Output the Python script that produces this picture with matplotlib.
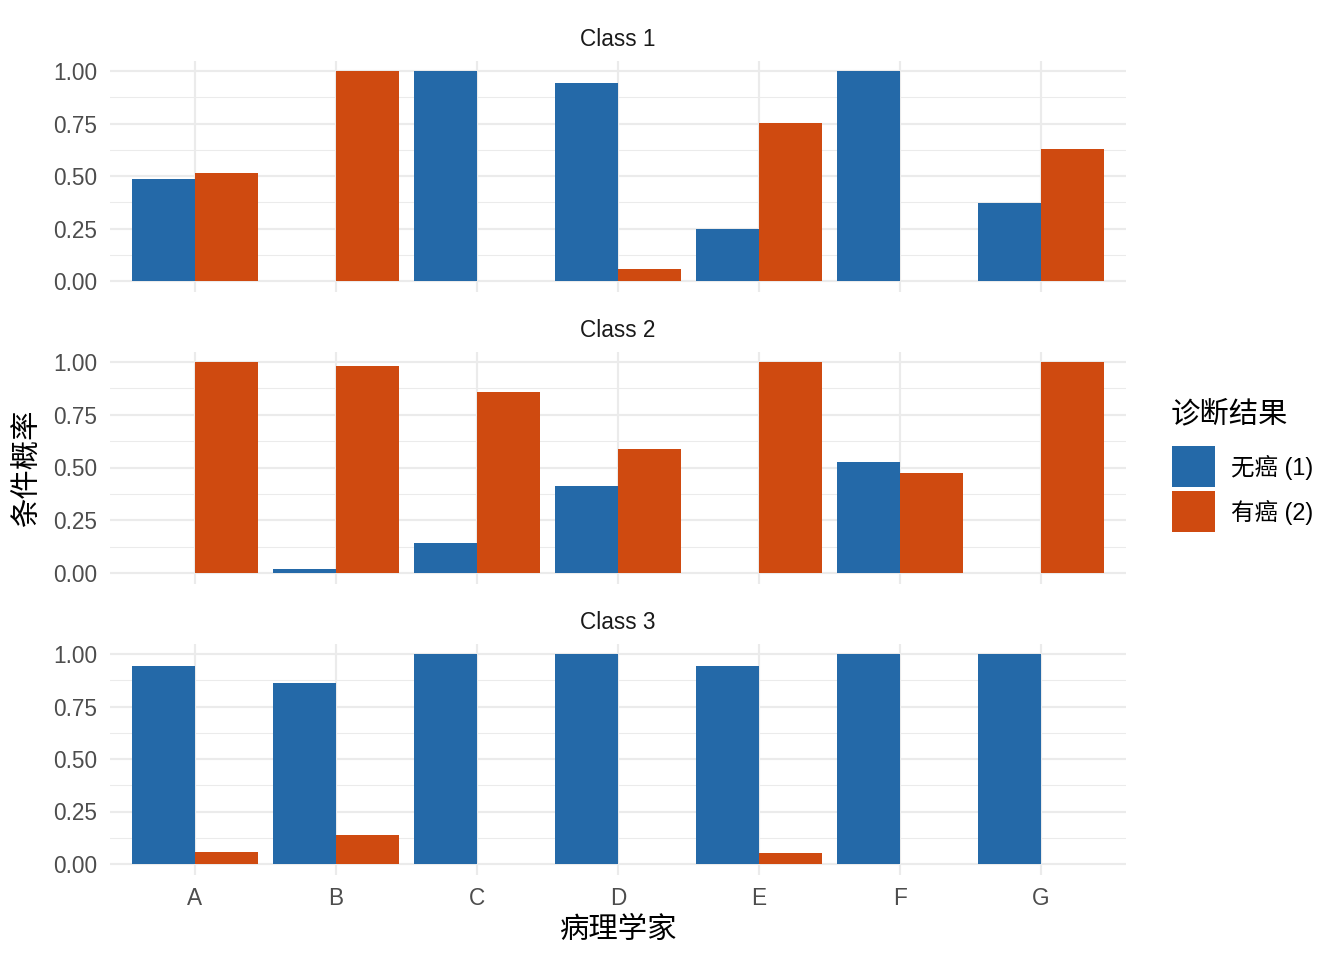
import matplotlib
matplotlib.use("Agg")
import matplotlib.pyplot as plt
import numpy as np
from matplotlib.patches import Rectangle

plt.rcParams["font.family"] = ["Liberation Sans", "Noto Sans CJK SC", "DejaVu Sans"]

pathologists = ["A", "B", "C", "D", "E", "F", "G"]
classes = ["Class 1", "Class 2", "Class 3"]
legend_title = "诊断结果"
series_labels = ["无癌 (1)", "有癌 (2)"]

# conditional probability per class, one row per class
no_cancer = [
    [0.485, 0.0, 1.0, 0.943, 0.248, 1.0, 0.371],
    [0.0, 0.019, 0.142, 0.412, 0.0, 0.524, 0.0],
    [0.943, 0.862, 1.0, 1.0, 0.943, 1.0, 1.0],
]
cancer = [
    [0.515, 1.0, 0.0, 0.057, 0.752, 0.0, 0.629],
    [1.0, 0.981, 0.858, 0.588, 1.0, 0.476, 1.0],
    [0.057, 0.138, 0.0, 0.0, 0.052, 0.0, 0.0],
]

BLUE = "#2469A8"
ORANGE = "#CF4A10"
GRID = "#EBEBEB"
W, H = 1344, 960

fig = plt.figure(figsize=(7, 5), dpi=192)

left, right = 110.4 / W, 1125.6 / W
panel_px = [(60.5, 291.5), (351.5, 583.5), (643.5, 874.5)]
x = np.arange(len(pathologists))
bw = 0.45

axes = []
for i, (top, bot) in enumerate(panel_px):
    ax = fig.add_axes([left, 1 - bot / H, right - left, (bot - top) / H])
    ax.bar(x - bw / 2, no_cancer[i], width=bw, color=BLUE, zorder=3)
    ax.bar(x + bw / 2, cancer[i], width=bw, color=ORANGE, zorder=3)
    ax.set_xlim(-0.6, len(pathologists) - 0.4)
    ax.set_ylim(-0.05, 1.05)
    ax.set_yticks([0, 0.25, 0.5, 0.75, 1.0])
    ax.set_yticks([0.125, 0.375, 0.625, 0.875], minor=True)
    ax.set_yticklabels(["0.00", "0.25", "0.50", "0.75", "1.00"])
    ax.set_xticks(x)
    if i == 2:
        ax.set_xticklabels(pathologists)
    else:
        ax.set_xticklabels([])
    ax.grid(which="major", color=GRID, linewidth=0.8, zorder=0)
    ax.grid(which="minor", axis="y", color=GRID, linewidth=0.4, zorder=0)
    ax.tick_params(which="both", length=0, labelsize=8.5, labelcolor="#4D4D4D", pad=4.9)
    for s in ax.spines.values():
        s.set_visible(False)
    ax.set_axisbelow(True)
    fig.text((left + right) / 2, 1 - (top - 21) / H, classes[i], ha="center", va="center",
             fontsize=8.5, color="#1A1A1A")
    axes.append(ax)

axes[2].tick_params(axis="x", pad=4.6)
fig.text((left + right) / 2, 1 - 930 / H, "病理学家", ha="center", va="center", fontsize=11)
fig.text(28 / W, 1 - 467 / H, "条件概率", ha="center", va="center", rotation=90, fontsize=11)

# legend drawn by hand to get ggplot-like spacing
fig.text(1171 / W, 1 - 414 / H, legend_title, ha="left", va="center", fontsize=11)
for k, (col, lab) in enumerate(zip([BLUE, ORANGE], series_labels)):
    key_top = 446 + k * 45
    fig.add_artist(Rectangle((1172 / W, 1 - (key_top + 41) / H), 43 / W, 41 / H,
                             transform=fig.transFigure, facecolor=col, edgecolor="none"))
    fig.text(1231 / W, 1 - (key_top + 21) / H, lab, ha="left", va="center", fontsize=8.8)

fig.savefig("out.png", dpi=192)
